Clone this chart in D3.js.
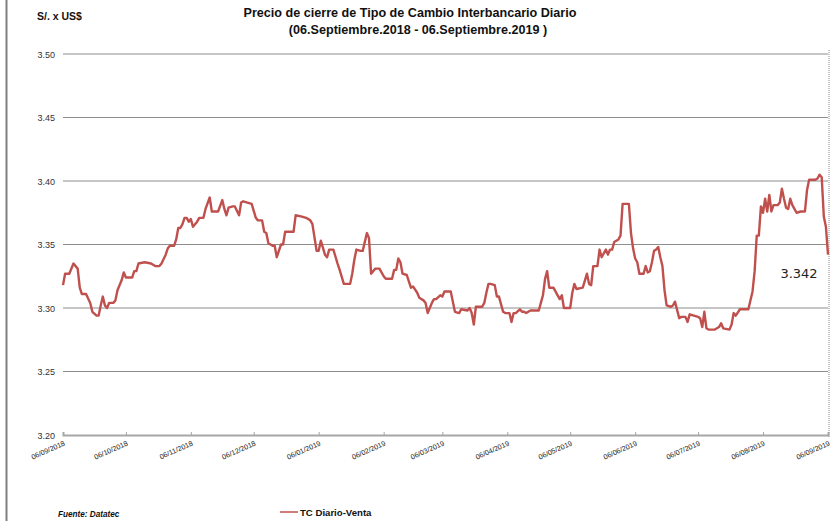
<!DOCTYPE html>
<html>
<head>
<meta charset="utf-8">
<script src="https://cdn.jsdelivr.net/npm/d3@7"></script>
<style>
  body { margin: 0; background: #fff; }
  svg { display: block; }
</style>
</head>
<body>
<div id="graph"></div>
<script>
// daily closing rate
const dates = [
  "2018-09-06","2018-09-07","2018-09-09","2018-09-11","2018-09-13","2018-09-14","2018-09-15","2018-09-17","2018-09-19","2018-09-20",
  "2018-09-22","2018-09-23","2018-09-24","2018-09-25","2018-09-26","2018-09-27","2018-09-28","2018-09-30","2018-10-01","2018-10-02",
  "2018-10-04","2018-10-05","2018-10-06","2018-10-09","2018-10-10","2018-10-11","2018-10-12","2018-10-15","2018-10-18","2018-10-19",
  "2018-10-20","2018-10-22","2018-10-23","2018-10-25","2018-10-26","2018-10-27","2018-10-29","2018-10-30","2018-10-31","2018-11-01",
  "2018-11-02","2018-11-03","2018-11-04","2018-11-05","2018-11-06","2018-11-07","2018-11-09","2018-11-10","2018-11-12","2018-11-13",
  "2018-11-15","2018-11-16","2018-11-19","2018-11-21","2018-11-22","2018-11-23","2018-11-24","2018-11-26","2018-11-27","2018-11-29",
  "2018-11-30","2018-12-01","2018-12-03","2018-12-05","2018-12-07","2018-12-08","2018-12-10","2018-12-11","2018-12-12","2018-12-13",
  "2018-12-15","2018-12-16","2018-12-17","2018-12-19","2018-12-20","2018-12-21","2018-12-25","2018-12-26","2018-12-29","2018-12-31",
  "2019-01-02","2019-01-03","2019-01-05","2019-01-06","2019-01-07","2019-01-09","2019-01-10","2019-01-11","2019-01-13","2019-01-15",
  "2019-01-16","2019-01-18","2019-01-21","2019-01-22","2019-01-23","2019-01-24","2019-01-26","2019-01-27","2019-01-29","2019-01-30",
  "2019-01-31","2019-02-02","2019-02-04","2019-02-06","2019-02-07","2019-02-10","2019-02-11","2019-02-12","2019-02-13","2019-02-14",
  "2019-02-15","2019-02-17","2019-02-19","2019-02-20","2019-02-22","2019-02-23","2019-02-25","2019-02-26","2019-02-27","2019-03-01",
  "2019-03-02","2019-03-03","2019-03-05","2019-03-06","2019-03-07","2019-03-10","2019-03-12","2019-03-14","2019-03-15","2019-03-18",
  "2019-03-19","2019-03-20","2019-03-21","2019-03-22","2019-03-25","2019-03-26","2019-03-27","2019-03-28","2019-03-29","2019-03-31",
  "2019-04-01","2019-04-02","2019-04-04","2019-04-05","2019-04-07","2019-04-08","2019-04-09","2019-04-10","2019-04-12","2019-04-13",
  "2019-04-14","2019-04-15","2019-04-17","2019-04-21","2019-04-22","2019-04-23","2019-04-24","2019-04-25","2019-04-26","2019-04-28",
  "2019-04-30","2019-05-01","2019-05-02","2019-05-03","2019-05-06","2019-05-07","2019-05-08","2019-05-09","2019-05-12","2019-05-14",
  "2019-05-15","2019-05-16","2019-05-17","2019-05-19","2019-05-20","2019-05-21","2019-05-23","2019-05-24","2019-05-25","2019-05-26",
  "2019-05-27","2019-05-29","2019-05-30","2019-05-31","2019-06-03","2019-06-04","2019-06-05","2019-06-06","2019-06-07","2019-06-08",
  "2019-06-10","2019-06-11","2019-06-12","2019-06-13","2019-06-14","2019-06-15","2019-06-16","2019-06-17","2019-06-18","2019-06-19",
  "2019-06-20","2019-06-21","2019-06-23","2019-06-24","2019-06-25","2019-06-27","2019-06-28","2019-06-30","2019-07-01","2019-07-02",
  "2019-07-04","2019-07-06","2019-07-07","2019-07-08","2019-07-09","2019-07-10","2019-07-11","2019-07-14","2019-07-16","2019-07-17",
  "2019-07-18","2019-07-21","2019-07-22","2019-07-23","2019-07-24","2019-07-26","2019-07-27","2019-07-30","2019-08-01","2019-08-02",
  "2019-08-03","2019-08-04","2019-08-05","2019-08-06","2019-08-07","2019-08-08","2019-08-09","2019-08-10","2019-08-11","2019-08-13",
  "2019-08-14","2019-08-15","2019-08-16","2019-08-17","2019-08-18","2019-08-19","2019-08-20","2019-08-22","2019-08-24","2019-08-26",
  "2019-08-27","2019-08-28","2019-08-31","2019-09-01","2019-09-02","2019-09-03","2019-09-04","2019-09-05","2019-09-06"
];
const values = [
  3.318,3.327,3.327,3.335,3.331,3.316,3.311,3.311,3.304,3.297,
  3.294,3.294,3.302,3.309,3.302,3.300,3.304,3.304,3.306,3.314,
  3.322,3.328,3.324,3.324,3.329,3.329,3.335,3.336,3.335,3.334,
  3.333,3.333,3.335,3.342,3.347,3.349,3.349,3.354,3.363,3.363,
  3.366,3.371,3.371,3.368,3.370,3.364,3.368,3.371,3.371,3.378,
  3.387,3.376,3.376,3.385,3.378,3.373,3.379,3.380,3.380,3.373,
  3.383,3.384,3.383,3.382,3.371,3.369,3.369,3.360,3.359,3.351,
  3.349,3.349,3.340,3.350,3.350,3.360,3.360,3.373,3.372,3.371,
  3.369,3.366,3.345,3.345,3.353,3.342,3.340,3.346,3.346,3.335,
  3.330,3.319,3.319,3.327,3.338,3.346,3.345,3.345,3.359,3.355,
  3.327,3.331,3.331,3.325,3.323,3.323,3.330,3.330,3.339,3.336,
  3.327,3.326,3.316,3.317,3.312,3.308,3.306,3.304,3.296,3.304,
  3.307,3.307,3.310,3.309,3.313,3.313,3.297,3.296,3.299,3.298,
  3.300,3.296,3.287,3.301,3.301,3.304,3.312,3.319,3.319,3.318,
  3.309,3.309,3.297,3.296,3.296,3.289,3.296,3.296,3.299,3.297,
  3.297,3.296,3.298,3.298,3.304,3.310,3.323,3.329,3.316,3.316,
  3.310,3.307,3.310,3.300,3.300,3.312,3.319,3.315,3.316,3.327,
  3.319,3.318,3.333,3.333,3.346,3.340,3.346,3.342,3.346,3.346,
  3.352,3.354,3.357,3.382,3.382,3.359,3.347,3.339,3.336,3.327,
  3.327,3.333,3.328,3.329,3.336,3.345,3.346,3.348,3.340,3.333,
  3.314,3.302,3.301,3.302,3.305,3.292,3.293,3.293,3.289,3.295,
  3.294,3.293,3.292,3.285,3.297,3.284,3.283,3.283,3.285,3.288,
  3.284,3.283,3.287,3.296,3.294,3.299,3.299,3.299,3.313,3.329,
  3.357,3.357,3.380,3.375,3.386,3.376,3.389,3.376,3.381,3.381,
  3.383,3.394,3.386,3.379,3.378,3.386,3.381,3.375,3.376,3.376,
  3.393,3.401,3.401,3.402,3.405,3.403,3.372,3.364,3.342
];
const yTicks = [3.20, 3.25, 3.30, 3.35, 3.40, 3.45, 3.50];
const xTickDates = [
  "2018-09-06","2018-10-06","2018-11-06","2018-12-06","2019-01-06","2019-02-06","2019-03-06",
  "2019-04-06","2019-05-06","2019-06-06","2019-07-06","2019-08-06","2019-09-06"
];
const title1 = "Precio de cierre de Tipo de Cambio Interbancario  Diario";
const title2 = "(06.Septiembre.2018 - 06.Septiembre.2019 )";
const seriesName = "TC Diario-Venta";
const lastLabel = "3.342";

const W = 830, H = 521;
const plot = { left: 63, right: 828, top: 54, bottom: 435 };

const parse = d3.timeParse("%Y-%m-%d");
const fmt = d3.timeFormat("%d/%m/%Y");
const data = dates.map((d, i) => ({ date: parse(d), value: values[i] }));

const svg = d3.select("#graph").append("svg")
  .attr("width", W).attr("height", H)
  .style("font-family", "'Liberation Sans', Arial, sans-serif");

const x = d3.scaleTime()
  .domain([parse("2018-09-06"), parse("2019-09-06")])
  .range([plot.left, plot.right]);
const y = d3.scaleLinear().domain([3.2, 3.5]).range([plot.bottom, plot.top]);

// soft glow under the grid lines
const defs = svg.append("defs");
defs.append("filter").attr("id", "blur")
  .attr("x", "-5%").attr("y", "-200%").attr("width", "110%").attr("height", "500%")
  .append("feGaussianBlur").attr("stdDeviation", 2.2);

// frame on the left
svg.append("line")
  .attr("x1", 6.5).attr("x2", 6.5).attr("y1", 0).attr("y2", H)
  .attr("stroke", "#7f7f7f").attr("stroke-width", 2);

// grid
const grid = svg.append("g");
grid.selectAll(".glow").data(yTicks.slice(1)).join("line")
  .attr("x1", plot.left).attr("x2", plot.right)
  .attr("y1", d => y(d) + 1.5).attr("y2", d => y(d) + 1.5)
  .attr("stroke", "#d9e2ec").attr("stroke-width", 5)
  .attr("filter", "url(#blur)");
grid.selectAll(".gl").data(yTicks.slice(1)).join("line")
  .attr("x1", plot.left).attr("x2", plot.right)
  .attr("y1", d => y(d)).attr("y2", d => y(d))
  .attr("stroke", "#8e8e8e").attr("stroke-width", 1.2);

// dotted right border
svg.append("line")
  .attr("x1", plot.right + 1).attr("x2", plot.right + 1)
  .attr("y1", plot.top - 4).attr("y2", plot.bottom + 2)
  .attr("stroke", "#8a8a8a").attr("stroke-width", 1).attr("stroke-dasharray", "1,1");

// y axis labels
const yAxis = svg.append("g")
  .attr("transform", "translate(" + (plot.left - 8) + ",0)")
  .call(d3.axisLeft(y).tickValues(yTicks).tickSize(0).tickFormat(d3.format(".2f")));
yAxis.select(".domain").remove();
yAxis.selectAll("text")
  .attr("x", 0).attr("dy", "0.35em")
  .style("font-size", "9px").style("font-family", "'Liberation Sans', Arial, sans-serif")
  .attr("fill", "#333");

// x axis
const xAxis = svg.append("g")
  .attr("transform", "translate(0," + plot.bottom + ")")
  .call(d3.axisBottom(x).tickValues(xTickDates.map(parse)).tickSize(-3).tickFormat(fmt));
xAxis.select(".domain").attr("stroke", "#a6a6a6").attr("stroke-width", 2);
xAxis.selectAll(".tick line").attr("stroke", "#a6a6a6");
xAxis.selectAll("text")
  .attr("y", 0).attr("dy", 0)
  .attr("text-anchor", "end")
  .attr("transform", "translate(2,10) rotate(-24)")
  .style("font-size", "7.2px").style("font-family", "'Liberation Sans', Arial, sans-serif")
  .attr("fill", "#222");

// series line
const line = d3.line().x(d => x(d.date)).y(d => y(d.value));
svg.append("path")
  .datum(data)
  .attr("fill", "none")
  .attr("stroke", "#c0504d")
  .attr("stroke-width", 2.4)
  .attr("stroke-linejoin", "round")
  .attr("d", line);

// titles
svg.append("text").attr("x", 410).attr("y", 17).attr("text-anchor", "middle")
  .style("font-size", "12.6px").style("font-weight", "bold").attr("fill", "#111").text(title1);
svg.append("text").attr("x", 418).attr("y", 34).attr("text-anchor", "middle")
  .style("font-size", "12.6px").style("font-weight", "bold").attr("fill", "#111").text(title2);
svg.append("text").attr("x", 37).attr("y", 20)
  .style("font-size", "10.5px").style("font-weight", "bold").attr("fill", "#111").text("S/. x US$");

// last value label
svg.append("text").attr("x", 799).attr("y", 278).attr("text-anchor", "middle")
  .style("font-size", "13px").style("font-family", "'DejaVu Sans', sans-serif")
  .attr("fill", "#222").text(lastLabel);

// footer
svg.append("text").attr("x", 58).attr("y", 517)
  .style("font-size", "8.2px").style("font-weight", "bold").style("font-style", "italic")
  .attr("fill", "#111").text("Fuente: Datatec");
svg.append("line").attr("x1", 280).attr("x2", 298).attr("y1", 512).attr("y2", 512)
  .attr("stroke", "#c0504d").attr("stroke-width", 1.5);
svg.append("text").attr("x", 300).attr("y", 515.5)
  .style("font-size", "9.6px").style("font-weight", "bold").attr("fill", "#111").text(seriesName);
</script>
</body>
</html>
